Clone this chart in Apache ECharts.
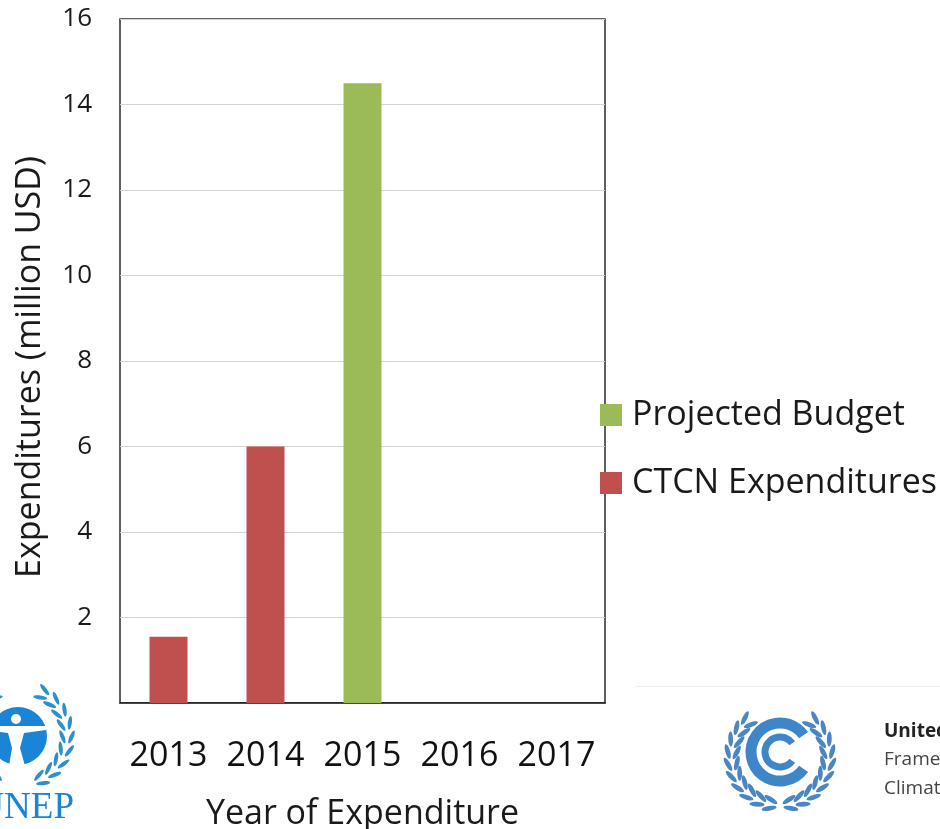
<!DOCTYPE html>
<html><head><meta charset="utf-8">
<style>html,body{margin:0;padding:0;background:#fff;overflow:hidden}#c{width:940px;height:829px}</style>
<script src="https://cdn.jsdelivr.net/npm/echarts@6/dist/echarts.min.js"></script>
</head><body><div id="c"></div>
<script>
const categories = ['2013','2014','2015','2016','2017'];
const ctcnExpenditures = [1.55, 6, null, null, null];
const projectedBudget = [null, null, 14.5, null, null];
const yTicksHidden = [0];
const FONT = '"Open Sans", sans-serif';

function wreath(cx, cy, r, fromDeg, toDeg, n, len, wid, color) {
  const out = [];
  const dir = toDeg > fromDeg ? 1 : -1;
  for (let i = 0; i < n; i++) {
    const a = (fromDeg + (toDeg - fromDeg) * i / (n - 1)) * Math.PI / 180;
    [-1, 1].forEach(side => {
      const rr = r + side * 4.5;
      const x = cx + rr * Math.cos(a), y = cy + rr * Math.sin(a);
      const rot = -(a + dir * Math.PI / 2) + side * dir * 0.38;
      out.push({type: 'ellipse', silent: true, x, y, rotation: rot, z: 5,
        shape: {cx: 0, cy: 0, rx: len, ry: wid}, style: {fill: color}});
    });
  }
  return out;
}

const logos = [
  // UNEP emblem
  ...wreath(18, 736, 49, 62, -60, 9, 7, 2, '#2e8fcf'),
  ...wreath(18, 736, 49, 118, 240, 9, 7, 2, '#2e8fcf'),
  {type: 'circle', silent: true, z: 5, shape: {cx: 18, cy: 736, r: 29}, style: {fill: '#1a84d6'}},
  {type: 'circle', silent: true, z: 6, shape: {cx: 16, cy: 719, r: 5}, style: {fill: '#fff'}},
  {type: 'polygon', silent: true, z: 6, shape: {points: [[-14,726],[46,726],[46,730],[24,733],[20,748],[25,766],[9,766],[12,748],[8,733],[-14,730]]}, style: {fill: '#fff'}},
  {type: 'text', silent: true, z: 6, x: 74, y: 790, style: {text: 'UNEP', font: '37px "Liberation Serif", serif', fill: '#1a84d6', align: 'right', verticalAlign: 'top'}},
  // UNFCCC emblem
  {type: 'line', silent: true, z: 5, shape: {x1: 636, y1: 686.5, x2: 940, y2: 686.5}, style: {stroke: '#efefef', lineWidth: 1}},
  ...wreath(780, 757, 48, 78, -48, 10, 7.5, 2.4, '#4a86c2'),
  ...wreath(780, 757, 48, 102, 228, 10, 7.5, 2.4, '#4a86c2'),
  {type: 'arc', silent: true, z: 6, shape: {cx: 780, cy: 752, r: 29, startAngle: 0.62, endAngle: -0.62, clockwise: true}, style: {stroke: '#3f86c8', fill: null, lineWidth: 11}},
  {type: 'arc', silent: true, z: 6, shape: {cx: 780, cy: 752, r: 15, startAngle: 0.62, endAngle: -0.62, clockwise: true}, style: {stroke: '#3f86c8', fill: null, lineWidth: 7}},
  {type: 'text', silent: true, z: 6, x: 884, y: 732, style: {text: 'United Nations', font: 'bold 19px "Open Sans", sans-serif', fill: '#222', verticalAlign: 'middle'}},
  {type: 'text', silent: true, z: 6, x: 884, y: 760, style: {text: 'Framework Convention', font: '19px "Open Sans", sans-serif', fill: '#444', verticalAlign: 'middle'}},
  {type: 'text', silent: true, z: 6, x: 884, y: 789, style: {text: 'Climate Change', font: '19px "Open Sans", sans-serif', fill: '#444', verticalAlign: 'middle'}}
];

const chart = echarts.init(document.getElementById('c'), null, {renderer: 'canvas'});
chart.setOption({
  animation: false,
  backgroundColor: '#fff',
  grid: {left: 120, top: 19, width: 485, height: 684, show: true, outerBoundsMode: 'none', containLabel: false,
    borderColor: '#2b2b2b', borderWidth: 1.5, backgroundColor: 'transparent'},
  legend: {
    left: 595, top: 393, padding: 5, orient: 'vertical', itemWidth: 22, itemHeight: 22, itemGap: 34,
    icon: 'rect', data: ['Projected Budget', 'CTCN Expenditures'], selectedMode: false,
    textStyle: {fontFamily: FONT, fontSize: 34, color: '#1a1a1a', padding: [0, 0, 0, 5]}
  },
  xAxis: {
    type: 'category', data: categories,
    name: 'Year of Expenditure', nameLocation: 'middle', nameGap: 94,
    nameTextStyle: {fontFamily: FONT, fontSize: 34, color: '#1a1a1a'},
    axisLine: {lineStyle: {color: '#1a1a1a', width: 1.5}}, axisTick: {show: false},
    axisLabel: {fontFamily: FONT, fontSize: 34, color: '#111', margin: 36, interval: 0}
  },
  yAxis: {
    type: 'value', min: 0, max: 16, interval: 2,
    name: 'Expenditures (million USD)', nameLocation: 'middle', nameGap: 73,
    nameTextStyle: {fontFamily: FONT, fontSize: 34, color: '#1a1a1a', padding: [0, 12, 0, 0]},
    axisLine: {show: false}, axisTick: {show: false},
    splitLine: {lineStyle: {color: '#d4d4d4', width: 1}},
    axisLabel: {fontFamily: FONT, fontSize: 26, color: '#1a1a1a', margin: 28,
      formatter: v => yTicksHidden.includes(v) ? '' : String(v)}
  },
  series: [
    {name: 'CTCN Expenditures', type: 'bar', stack: 'a', barWidth: 38, data: ctcnExpenditures, itemStyle: {color: '#c0504d'}},
    {name: 'Projected Budget', type: 'bar', stack: 'a', barWidth: 38, data: projectedBudget, itemStyle: {color: '#9bbb59'}}
  ],
  graphic: {elements: logos}
});
</script></body></html>
